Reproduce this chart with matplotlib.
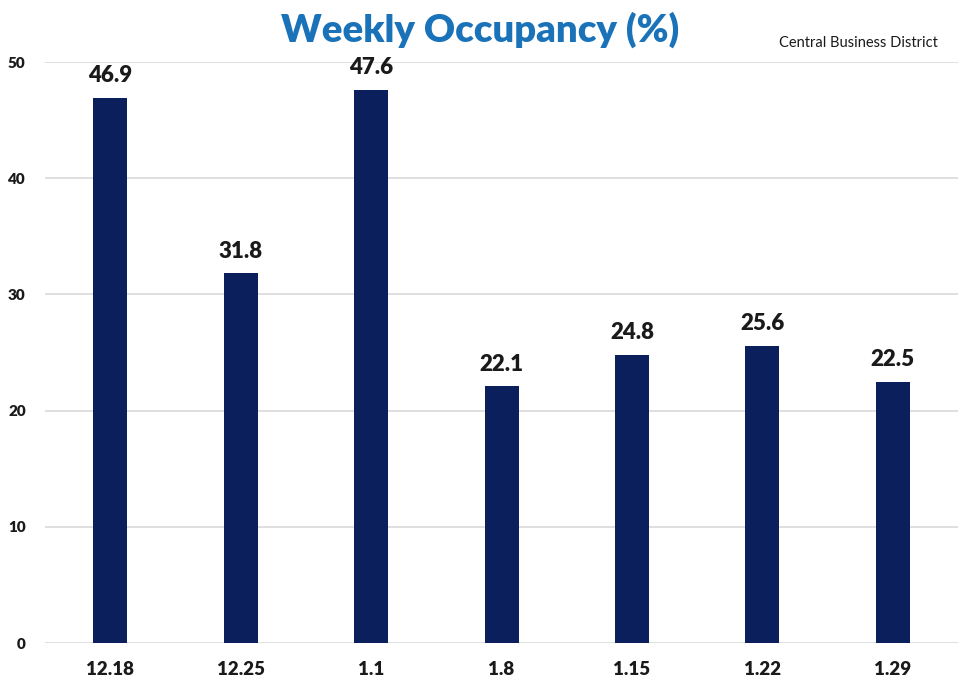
import matplotlib
matplotlib.use("Agg")
import matplotlib.pyplot as plt

categories = ["12.18", "12.25", "1.1", "1.8", "1.15", "1.22", "1.29"]
values = [46.9, 31.8, 47.6, 22.1, 24.8, 25.6, 22.5]
yticks = [0, 10, 20, 30, 40, 50]

plt.rcParams['font.family'] = ['Lato', 'DejaVu Sans']

fig = plt.figure(figsize=(9.6, 6.92), dpi=100)
ax = fig.add_axes([0.047, 0.0708, 0.951, 0.8396])
x = list(range(len(categories)))
ax.bar(x, values, width=0.26, color="#0b1f5c", zorder=3)
for xi, v in zip(x, values):
    ax.text(xi, v + 1.0, f"{v:.1f}", ha="center", va="bottom", fontsize=16,
            fontweight="heavy", color="#1a1a1a")
ax.set_xlim(-0.5, len(categories) - 0.5)
ax.set_ylim(0, 50)
ax.set_yticks(yticks)
ax.set_yticklabels([str(t) for t in yticks], fontsize=11, fontweight="heavy", color="#1a1a1a")
ax.set_xticks(x)
ax.set_xticklabels(categories, fontsize=13.5, fontweight="heavy", color="#1a1a1a")
ax.yaxis.grid(True, color="#d9d9d9", linewidth=1.2, zorder=0)
ax.tick_params(axis="both", length=0)
ax.tick_params(axis="x", pad=13)
ax.tick_params(axis="y", pad=14)
for s in ax.spines.values():
    s.set_visible(False)
ax.set_axisbelow(True)

fig.text(0.50, 0.957, "Weekly Occupancy (%)", ha="center", va="center", fontsize=27.5,
         fontweight="heavy", color="#1a72b8")
fig.text(0.977, 0.938, "Central Business District", ha="right", va="center", fontsize=10.5,
         color="#1a1a1a")

fig.savefig("out.png", dpi=100)
